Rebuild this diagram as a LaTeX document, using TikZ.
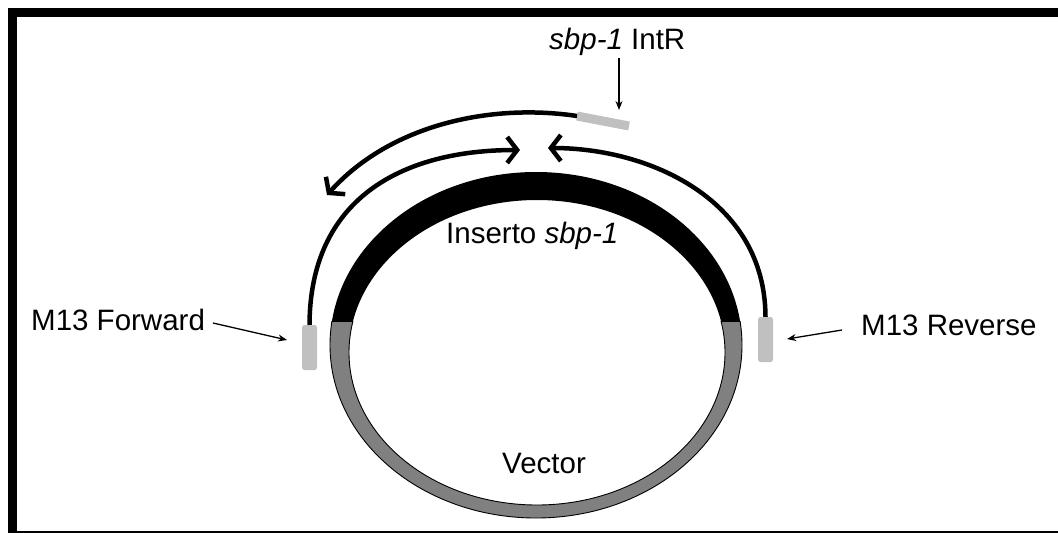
\documentclass[tikz,border=0pt]{standalone}
\usepackage{fontspec}
\setmainfont{Liberation Sans}
\usetikzlibrary{arrows.meta}
\definecolor{primergray}{RGB}{192,192,192}
\definecolor{vecgray}{RGB}{128,128,128}
\begin{document}
\begin{tikzpicture}[x=1pt,y=-1pt,
  primer/.style={fill=primergray, draw=none, rounded corners=2.5pt, minimum width=15pt, minimum height=45pt, inner sep=0pt},
  lbl/.style={inner sep=0pt, anchor=base west, font=\fontsize{29.5}{35}\selectfont},
  thinarrow/.style={line width=1.3pt, -{Stealth[length=9pt,width=7pt]}},
  strand/.style={line width=4.5pt, -{Straight Barb[length=10pt,width=26pt]}},
]
\useasboundingbox (0,0) rectangle (1058,533);
% frame
\fill[black] (8,8) rectangle (1058,17);
\fill[black] (8,8) rectangle (17,533);
\draw[line width=1.5pt] (8,532) -- (1058,532);

% plasmid ring: vector part (bottom)
\begin{scope}
  \clip (0,321) rectangle (1058,533);
  \fill[vecgray, even odd rule] (536,345) ellipse [x radius=206, y radius=173]
                                (537,352.5) ellipse [x radius=188, y radius=152.5];
  \draw[line width=0.9pt] (536,345) ellipse [x radius=206, y radius=173];
  \draw[line width=0.9pt] (537,352.5) ellipse [x radius=188, y radius=152.5];
\end{scope}
% insert part (top)
\begin{scope}
  \clip (0,0) rectangle (1058,321);
  \fill[black, even odd rule] (536,345) ellipse [x radius=206, y radius=173]
                              (537,352.5) ellipse [x radius=188, y radius=152.5];
\end{scope}

% primers
\node[primer] (fwd) at (309.5,347.5) {};
\node[primer] (rev) at (765.5,339.5) {};
\coordinate (ib1) at (577,116);
\coordinate (ib2) at (629,126);
\draw[primergray, line width=9pt] (ib1) -- (ib2);

% strands
\coordinate (tipF) at (520,150);
\coordinate (tipR) at (548,148);
\coordinate (tipO) at (327,195);
\draw[strand] (fwd.north) .. controls (310,200) and (400,150) .. (tipF);
\draw[strand] (rev.north) .. controls (765,200) and (650,148) .. (tipR);
\draw[strand] (ib1) .. controls (490,103) and (390,125) .. (tipO);

% labels
\node[lbl] (lfwd) at (31,330) {M13 Forward};
\node[lbl] (lrev) at (861,335) {M13 Reverse};
\node[lbl] (lint) at (549,49) {\itshape sbp-1\/\upshape{} IntR};
\node[lbl] (lins) at (446,243) {Inserto \itshape sbp-1};
\node[lbl] (lvec) at (502,473) {Vector};

% pointer arrows
\coordinate (fa1) at (213,323);
\coordinate (fa2) at (287,340);
\coordinate (ra1) at (842,330);
\coordinate (ra2) at (787,339);
\coordinate (ia1) at (619,58);
\coordinate (ia2) at (619,110);
\draw[thinarrow] (fa1) -- (fa2);
\draw[thinarrow] (ra1) -- (ra2);
\draw[thinarrow] (ia1) -- (ia2);
\end{tikzpicture}
\end{document}
